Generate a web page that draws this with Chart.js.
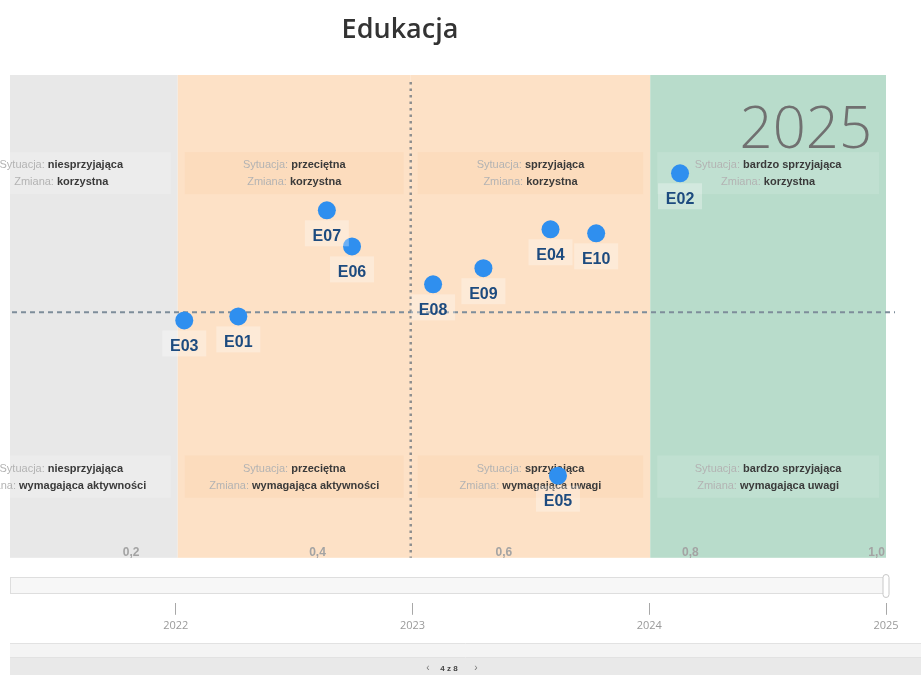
<!DOCTYPE html>
<html lang="pl">
<head>
<meta charset="utf-8">
<title>Edukacja</title>
<script src="https://cdn.jsdelivr.net/npm/chart.js@4.4.1/dist/chart.umd.min.js"></script>
<style>
  html, body { margin: 0; padding: 0; background: #ffffff; }
  #wrap { position: relative; width: 921px; height: 675px; }
</style>
</head>
<body>
<div id="wrap"><canvas id="chart" width="921" height="675"></canvas></div>
<script>
// Indicators for the education area (situation on x, change on y)
const categories = ['E01', 'E02', 'E03', 'E04', 'E05', 'E06', 'E07', 'E08', 'E09', 'E10'];
const situationValues = [0.315, 0.789, 0.257, 0.650, 0.658, 0.437, 0.410, 0.524, 0.578, 0.699];
const changeValues   = [-0.017, 0.586, -0.034, 0.350, -0.688, 0.278, 0.430, 0.118, 0.186, 0.333];

// Situation classes (columns) and their thresholds
const columnEdges = [0, 0.25, 0.5, 0.757, 1.01];
const situationNames = ['niesprzyjająca', 'przeciętna', 'sprzyjająca', 'bardzo sprzyjająca'];
const changeTopNames = ['korzystna', 'korzystna', 'korzystna', 'korzystna'];
const changeBottomNames = ['wymagająca aktywności', 'wymagająca aktywności', 'wymagająca uwagi', 'wymagająca uwagi'];

// Axis ticks
const xTickValues = [0.2, 0.4, 0.6, 0.8, 1.0];
const xTickLabels = ['0,2', '0,4', '0,6', '0,8', '1,0'];
const years = [2022, 2023, 2024, 2025];
const currentYear = '2025';
const pageLabel = '4 z 8';

const bandColors = ['#e8e8e8', '#fde1c6', '#fde1c6', '#b8dccb'];
const boxColors = ['rgba(255,255,255,0.18)', 'rgba(252,205,160,0.22)', 'rgba(252,205,160,0.22)', 'rgba(255,255,255,0.12)'];

function drawCaption(ctx, cx, cy, label, value) {
  ctx.textBaseline = 'middle';
  ctx.font = '11px "Liberation Sans", Arial, sans-serif';
  const w1 = ctx.measureText(label).width;
  ctx.font = 'bold 11px "Liberation Sans", Arial, sans-serif';
  const w2 = ctx.measureText(value).width;
  const x0 = cx - (w1 + w2) / 2;
  ctx.textAlign = 'left';
  ctx.font = '11px "Liberation Sans", Arial, sans-serif';
  ctx.fillStyle = '#b3b3b3';
  ctx.fillText(label, x0, cy);
  ctx.font = 'bold 11px "Liberation Sans", Arial, sans-serif';
  ctx.fillStyle = '#3a3a3a';
  ctx.fillText(value, x0 + w1, cy);
}

const backdrop = {
  id: 'backdrop',
  beforeDatasetsDraw(chart) {
    const { ctx, chartArea: a, scales } = chart;
    const x = scales.x, y = scales.y;
    ctx.save();

    // title
    ctx.fillStyle = '#333333';
    ctx.font = '600 27px "Open Sans", "Noto Sans", sans-serif';
    ctx.textAlign = 'center';
    ctx.textBaseline = 'alphabetic';
    ctx.fillText('Edukacja', 400, 38);

    // situation bands
    for (let i = 0; i < 4; i++) {
      const l = Math.max(a.left, x.getPixelForValue(columnEdges[i]));
      const r = Math.min(a.right, x.getPixelForValue(columnEdges[i + 1]));
      ctx.fillStyle = bandColors[i];
      ctx.fillRect(l, a.top, r - l, a.bottom - a.top);
    }

    // quadrant caption boxes
    for (let i = 0; i < 4; i++) {
      const l = x.getPixelForValue(columnEdges[i]) + 7;
      const r = x.getPixelForValue(columnEdges[i + 1]) - 7;
      const cx = (l + r) / 2;
      const rows = [[0.675, 0.498, changeTopNames[i]], [-0.603, -0.781, changeBottomNames[i]]];
      rows.forEach(([t, b, change]) => {
        const top = y.getPixelForValue(t), bot = y.getPixelForValue(b);
        ctx.fillStyle = boxColors[i];
        const bl = Math.max(l, a.left);
        ctx.fillRect(bl, top, r - bl, bot - top);
        const mid = (top + bot) / 2;
        drawCaption(ctx, cx, mid - 8, 'Sytuacja: ', situationNames[i]);
        drawCaption(ctx, cx, mid + 9, 'Zmiana: ', change);
      });
    }

    // year in the corner
    ctx.fillStyle = '#707070';
    ctx.font = '300 58px "Open Sans", "Noto Sans", sans-serif';
    ctx.textAlign = 'right';
    ctx.textBaseline = 'alphabetic';
    ctx.fillText(currentYear, a.right - 14, 148);

    // axis value labels inside the plot
    ctx.fillStyle = '#a3a3a3';
    ctx.font = 'bold 12px "Liberation Sans", Arial, sans-serif';
    ctx.textAlign = 'center';
    ctx.textBaseline = 'middle';
    xTickValues.forEach((v, i) => {
      let px = x.getPixelForValue(v);
      const w = ctx.measureText(xTickLabels[i]).width;
      px = Math.min(px, a.right - w / 2);
      ctx.fillText(xTickLabels[i], px, a.bottom - 5);
    });

    // reference lines
    ctx.lineCap = 'butt';
    ctx.strokeStyle = '#8e8e8e';
    ctx.lineWidth = 2.5;
    ctx.setLineDash([2.5, 4]);
    const vx = x.getPixelForValue(0.5);
    ctx.beginPath();
    ctx.moveTo(vx, a.top + 7);
    ctx.lineTo(vx, a.bottom);
    ctx.stroke();

    ctx.strokeStyle = '#7e8d9a';
    ctx.lineWidth = 2;
    ctx.setLineDash([5, 4]);
    const hy = y.getPixelForValue(0);
    ctx.beginPath();
    ctx.moveTo(a.left + 2, hy);
    ctx.lineTo(a.right + 9, hy);
    ctx.stroke();
    ctx.setLineDash([]);

    // time slider track
    ctx.fillStyle = '#f7f7f7';
    ctx.fillRect(a.left, 577, a.right - a.left, 16);
    ctx.strokeStyle = '#dedede';
    ctx.lineWidth = 1;
    ctx.strokeRect(a.left + 0.5, 577.5, a.right - a.left, 16);
    const hx = chart.scales.year.getPixelForValue(2025);
    ctx.fillStyle = '#ffffff';
    ctx.strokeStyle = '#c8c8c8';
    ctx.beginPath();
    ctx.roundRect(hx - 3, 574.5, 6, 23, 3);
    ctx.fill();
    ctx.stroke();

    // pager strip
    ctx.fillStyle = '#f4f4f4';
    ctx.fillRect(a.left, 643, 921 - a.left, 15);
    ctx.fillStyle = '#e9e9e9';
    ctx.fillRect(a.left, 658, 921 - a.left, 17);
    ctx.strokeStyle = '#e2e2e2';
    ctx.beginPath();
    ctx.moveTo(a.left, 643.5); ctx.lineTo(921, 643.5);
    ctx.moveTo(a.left, 657.5); ctx.lineTo(921, 657.5);
    ctx.stroke();
    ctx.fillStyle = '#444444';
    ctx.font = 'bold 8px "Liberation Sans", Arial, sans-serif';
    ctx.textAlign = 'center';
    ctx.textBaseline = 'middle';
    ctx.fillText(pageLabel, 449, 669);
    ctx.font = '10px "Liberation Sans", Arial, sans-serif';
    ctx.fillStyle = '#777777';
    ctx.fillText('‹', 428, 668);
    ctx.fillText('›', 476, 668);

    ctx.restore();
  },
  afterDatasetsDraw(chart) {
    const { ctx } = chart;
    const meta = chart.getDatasetMeta(0);
    ctx.save();
    ctx.font = 'bold 16px "Liberation Sans", Arial, sans-serif';
    ctx.textAlign = 'center';
    ctx.textBaseline = 'middle';
    meta.data.forEach((pt, i) => {
      const text = categories[i];
      ctx.fillStyle = 'rgba(255,255,255,0.3)';
      ctx.fillRect(pt.x - 22, pt.y + 10, 44, 26);
      ctx.fillStyle = '#1d4b7f';
      ctx.fillText(text, pt.x, pt.y + 26);
    });
    ctx.restore();
  }
};

new Chart(document.getElementById('chart'), {
  type: 'scatter',
  data: {
    datasets: [{
      label: 'Edukacja',
      data: categories.map((c, i) => ({ x: situationValues[i], y: changeValues[i] })),
      backgroundColor: '#2f8fef',
      borderWidth: 0,
      pointRadius: 9,
      pointHoverRadius: 9
    }]
  },
  options: {
    responsive: false,
    animation: false,
    layout: { padding: { left: 10, right: 35, top: 75, bottom: 39 } },
    plugins: { legend: { display: false }, tooltip: { enabled: false }, title: { display: false } },
    scales: {
      x: {
        type: 'linear', position: 'bottom', weight: 0,
        min: 0.07, max: 1.01,
        grid: { display: false }, border: { display: false },
        ticks: { display: false },
        afterBuildTicks: s => { s.ticks = xTickValues.map(v => ({ value: v })); },
        afterFit: s => { s.height = 45; }
      },
      year: {
        type: 'linear', axis: 'x', position: 'bottom', weight: 1,
        min: 2021.3, max: 2025,
        grid: { drawOnChartArea: false, drawTicks: true, tickLength: 12, tickColor: '#a8a8a8', tickWidth: 1 },
        border: { display: false },
        afterBuildTicks: s => { s.ticks = years.map(v => ({ value: v })); },
        ticks: {
          autoSkip: false, maxRotation: 0, padding: 4,
          color: '#9a9a9a',
          font: { family: '"Open Sans", "Noto Sans", sans-serif', size: 11 },
          callback: v => String(v)
        }
      },
      y: {
        type: 'linear', display: false,
        min: -1.034, max: 1
      }
    }
  },
  plugins: [backdrop]
});
</script>
</body>
</html>
